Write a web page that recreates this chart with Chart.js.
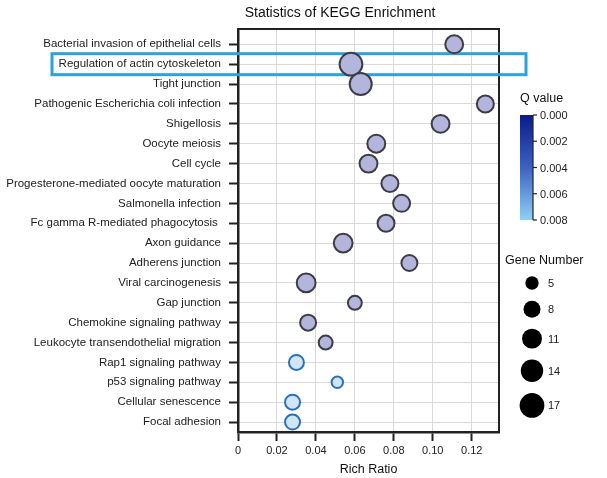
<!DOCTYPE html>
<html>
<head>
<meta charset="utf-8">
<script src="https://cdn.jsdelivr.net/npm/chart.js@4.4.1/dist/chart.umd.min.js"></script>
<style>
  html, body { margin: 0; padding: 0; background: #fff; }
  #wrap { width: 607px; height: 478px; }
</style>
</head>
<body>
<div id="wrap"><canvas id="keggChart" width="607" height="478"></canvas></div>
<script>
// KEGG enrichment bubble chart

const categories = [
    'Bacterial invasion of epithelial cells',
    'Regulation of actin cytoskeleton',
    'Tight junction',
    'Pathogenic Escherichia coli infection',
    'Shigellosis',
    'Oocyte meiosis',
    'Cell cycle',
    'Progesterone-mediated oocyte maturation',
    'Salmonella infection',
    'Fc gamma R-mediated phagocytosis ',
    'Axon guidance',
    'Adherens junction',
    'Viral carcinogenesis',
    'Gap junction',
    'Chemokine signaling pathway',
    'Leukocyte transendothelial migration',
    'Rap1 signaling pathway',
    'p53 signaling pathway',
    'Cellular senescence',
    'Focal adhesion'
];
const richRatio = [0.111, 0.058, 0.063, 0.127, 0.104, 0.071, 0.067, 0.078, 0.084, 0.076,
                   0.054, 0.088, 0.035, 0.060, 0.036, 0.045, 0.030, 0.051, 0.028, 0.028];
const geneNumber = [11, 17, 16, 10, 11, 11, 11, 10, 10, 10,
                    12, 9, 12, 7, 9, 7, 8, 5, 8, 8];
const qValue = [0.004, 0.004, 0.004, 0.004, 0.004, 0.004, 0.004, 0.004, 0.004, 0.004,
                0.004, 0.004, 0.004, 0.004, 0.004, 0.004, 0.008, 0.008, 0.008, 0.008];
const highlighted = ['Regulation of actin cytoskeleton'];

const qLegendTicks = [0, 0.002, 0.004, 0.006, 0.008];
const geneLegend = [5, 8, 11, 14, 17];

const FONT = '"Liberation Sans", Arial, sans-serif';
const BORDER_W = 2;

function outerRadius(n) {
    return 3 * Math.sqrt(n);
}

function fillFor(q) {
    return q >= 0.007 ? '#d0e5f7' : '#b3b5dd';
}

function strokeFor(q) {
    return q >= 0.007 ? '#2a72b8' : '#3c3c44';
}

const points = categories.map((c, i) => ({
    x: richRatio[i],
    y: i,
    r: outerRadius(geneNumber[i]) - BORDER_W / 2
}));

const sidePlugin = {
    id: 'sideDecor',
    beforeDatasetsDraw(chart) {
        const ctx = chart.ctx;
        const area = chart.chartArea;
        const yScale = chart.scales.y;
        ctx.save();
        // top and right frame
        ctx.strokeStyle = '#222';
        ctx.lineWidth = 2;
        ctx.beginPath();
        ctx.moveTo(area.left, area.top);
        ctx.lineTo(area.right, area.top);
        ctx.lineTo(area.right, area.bottom);
        ctx.stroke();

        // highlight box, under the bubbles
        highlighted.forEach(name => {
            const yc = yScale.getPixelForValue(categories.indexOf(name));
            ctx.strokeStyle = '#2ba3d9';
            ctx.lineWidth = 3;
            ctx.strokeRect(52, yc - 10.5, area.right + 27 - 52, 21);
        });
        ctx.restore();
    },
    afterDraw(chart) {
        const ctx = chart.ctx;
        const area = chart.chartArea;
        ctx.save();

        // title
        ctx.fillStyle = '#111';
        ctx.font = '14px ' + FONT;
        ctx.textAlign = 'center';
        ctx.textBaseline = 'middle';
        ctx.fillText('Statistics of KEGG Enrichment', 340, 13);

        // Q value colour bar
        const barX = area.right + 21;
        const barW = 13;
        const barTop = 115;
        const barBot = 220;
        ctx.fillStyle = '#111';
        ctx.font = '12.5px ' + FONT;
        ctx.textAlign = 'left';
        ctx.fillText('Q value', barX, 99);

        const grad = ctx.createLinearGradient(0, barTop, 0, barBot);
        grad.addColorStop(0, '#0a1a8a');
        grad.addColorStop(0.5, '#3d62c0');
        grad.addColorStop(1, '#8fd0f6');
        ctx.fillStyle = grad;
        ctx.fillRect(barX, barTop, barW, barBot - barTop);

        const axX = barX + barW;
        ctx.strokeStyle = '#222';
        ctx.lineWidth = 1.2;
        ctx.beginPath();
        ctx.moveTo(axX, barTop);
        ctx.lineTo(axX, barBot);
        ctx.stroke();
        ctx.font = '11px ' + FONT;
        ctx.fillStyle = '#222';
        qLegendTicks.forEach((q, i) => {
            const ty = barTop + (barBot - barTop) * i / (qLegendTicks.length - 1);
            ctx.beginPath();
            ctx.moveTo(axX, ty);
            ctx.lineTo(axX + 4, ty);
            ctx.stroke();
            ctx.fillText(q.toFixed(3), axX + 7, ty + 1);
        });

        // gene number legend
        ctx.fillStyle = '#111';
        ctx.font = '12.5px ' + FONT;
        ctx.fillText('Gene Number', area.right + 6, 261);
        const dotX = area.right + 33;
        let y = 283;
        let prevR = null;
        geneLegend.forEach(n => {
            const r = outerRadius(n);
            if (prevR !== null) y += prevR + r + 11;
            ctx.fillStyle = '#000';
            ctx.beginPath();
            ctx.arc(dotX, y, r, 0, Math.PI * 2);
            ctx.fill();
            ctx.fillStyle = '#222';
            ctx.font = '11px ' + FONT;
            ctx.fillText(String(n), dotX + 16, y + 1);
            prevR = r;
        });

        ctx.restore();
    }
};

new Chart(document.getElementById('keggChart'), {
    type: 'bubble',
    data: {
        datasets: [{
            data: points,
            backgroundColor: ctx => fillFor(qValue[ctx.dataIndex]),
            borderColor: ctx => strokeFor(qValue[ctx.dataIndex]),
            borderWidth: BORDER_W
        }]
    },
    options: {
        responsive: false,
        animation: false,
        events: [],
        layout: { padding: { top: 29, right: 108, left: 0, bottom: 0 } },
        plugins: {
            legend: { display: false },
            tooltip: { enabled: false }
        },
        scales: {
            x: {
                type: 'linear',
                min: 0,
                max: 0.134,
                afterFit: scale => { scale.height = 46; },
                ticks: {
                    stepSize: 0.02,
                    includeBounds: false,
                    padding: 3,
                    color: '#222',
                    font: { family: FONT, size: 11 },
                    callback: v => v === 0 ? '0' : v.toFixed(2)
                },
                grid: {
                    color: '#dadada',
                    lineWidth: 1,
                    tickColor: '#222',
                    tickLength: 9,
                    tickWidth: 2
                },
                border: { color: '#222', width: 2.5 },
                title: {
                    display: true,
                    text: 'Rich Ratio',
                    color: '#111',
                    font: { family: FONT, size: 12.5 },
                    padding: { top: 0, bottom: 1 }
                }
            },
            y: {
                type: 'linear',
                reverse: true,
                min: -0.77,
                max: 19.5,
                afterFit: scale => { scale.width = 238; },
                afterBuildTicks: scale => {
                    scale.ticks = categories.map((c, i) => ({ value: i }));
                },
                ticks: {
                    padding: 8,
                    color: '#222',
                    font: { family: FONT, size: 11.5 },
                    callback: v => categories[v]
                },
                grid: {
                    color: '#dadada',
                    lineWidth: 1,
                    tickColor: '#222',
                    tickLength: 9,
                    tickWidth: 2
                },
                border: { color: '#222', width: 2.5 }
            }
        }
    },
    plugins: [sidePlugin]
});
</script>
</body>
</html>
